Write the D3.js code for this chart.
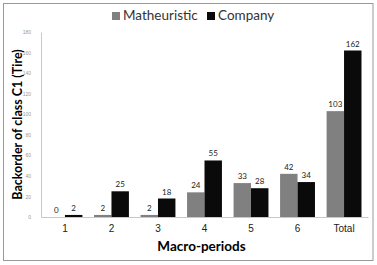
<!DOCTYPE html>
<html lang="en">
  <head>
    <meta charset="UTF-8" />
    <script src="https://d3js.org/d3.v7.min.js"></script>
    <style>
      body { margin: 0; background: #fff; }
      svg { display: block; font-family: Lato, "Open Sans", sans-serif; }
    </style>
  </head>
  <body>
    <div id="chart"></div>
    <script>
      const categories = ["1", "2", "3", "4", "5", "6", "Total"];
      const seriesNames = ["Matheuristic", "Company"];
      const matheuristic = [0, 2, 2, 24, 33, 42, 103];
      const company = [2, 25, 18, 55, 28, 34, 162];
      const yTicks = [0, 20, 40, 60, 80, 100, 120, 140, 160, 180];
      const colors = ["#808080", "#0a0a0a"];

      const W = 377, H = 265;
      const margin = { top: 32, right: 9, bottom: 48, left: 41 };
      const width = W - margin.left - margin.right;
      const height = H - margin.top - margin.bottom;

      const svg = d3.select("#chart").append("svg")
        .attr("width", W).attr("height", H);

      // outer frame
      svg.append("rect")
        .attr("x", 3.5).attr("y", 3.5)
        .attr("width", 369.5).attr("height", 257)
        .attr("fill", "none").attr("stroke", "#9a9a9a");

      const g = svg.append("g")
        .attr("transform", "translate(" + margin.left + "," + margin.top + ")");

      const x = d3.scaleBand().domain(categories).range([0, width]).paddingInner(0.25).paddingOuter(0.14);
      const xs = d3.scaleBand().domain(seriesNames).range([0, x.bandwidth()]);
      const y = d3.scaleLinear().domain([0, 180]).range([height, 0]);

      // y axis
      const yAxis = g.append("g")
        .call(d3.axisLeft(y).tickValues(yTicks).tickSize(0).tickPadding(10));
      yAxis.select(".domain").attr("stroke", "#c8c8c8");
      yAxis.selectAll("text").style("font-size", "5px").attr("fill", "#999");

      // x axis
      const xAxis = g.append("g")
        .attr("transform", "translate(0," + height + ")")
        .call(d3.axisBottom(x).tickSize(0).tickPadding(8));
      xAxis.select(".domain").attr("stroke", "#c8c8c8");
      xAxis.selectAll("text").style("font-size", "10px").attr("fill", "#222");

      const rows = categories.map((c, i) => ({ c, vals: [matheuristic[i], company[i]] }));

      const grp = g.selectAll(".grp").data(rows).join("g")
        .attr("transform", d => "translate(" + x(d.c) + ",0)");

      grp.selectAll("rect").data(d => d.vals.map((v, k) => ({ k, v }))).join("rect")
        .attr("x", d => xs(seriesNames[d.k]))
        .attr("y", d => y(d.v))
        .attr("width", xs.bandwidth())
        .attr("height", d => height - y(d.v))
        .attr("fill", d => colors[d.k]);

      grp.selectAll("text").data(d => d.vals.map((v, k) => ({ k, v }))).join("text")
        .attr("x", d => xs(seriesNames[d.k]) + xs.bandwidth() / 2)
        .attr("y", d => y(d.v) - 4)
        .attr("text-anchor", "middle")
        .style("font-size", "8px")
        .attr("fill", "#222")
        .text(d => d.v);

      // axis titles
      svg.append("text")
        .attr("x", margin.left + width / 2 - 3).attr("y", 251)
        .attr("text-anchor", "middle")
        .style("font-size", "13.5px").style("font-weight", "bold")
        .text("Macro-periods");

      svg.append("text")
        .attr("transform", "translate(22," + (margin.top + height / 2) + ") rotate(-90)")
        .attr("text-anchor", "middle")
        .style("font-size", "12.5px").style("font-weight", "bold")
        .text("Backorder of class C1 (Tire)");

      // legend
      const legendX = [112, 207];
      const leg = svg.selectAll(".leg").data(seriesNames).join("g")
        .attr("transform", (d, i) => "translate(" + legendX[i] + ",10)");
      leg.append("rect").attr("width", 8).attr("height", 8).attr("y", 2)
        .attr("fill", (d, i) => colors[i]);
      leg.append("text").attr("x", 11).attr("y", 10)
        .style("font-size", "13.5px").attr("fill", "#333")
        .text(d => d);
    </script>
  </body>
</html>
